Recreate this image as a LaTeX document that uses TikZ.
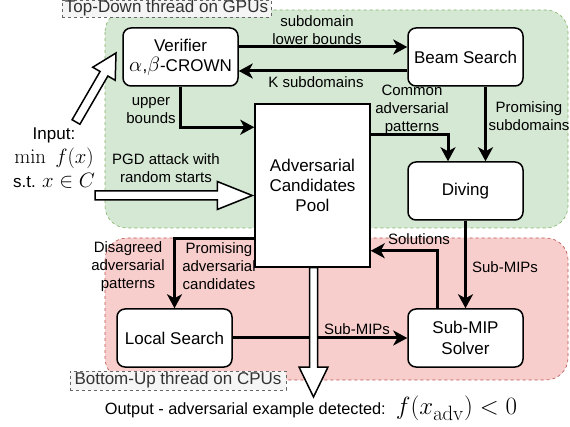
\documentclass[tikz,border=0pt]{standalone}
\usepackage[no-math]{fontspec}
\setmainfont{Liberation Sans}
\usetikzlibrary{arrows.meta,calc}
\definecolor{gfill}{HTML}{D5E8D4}
\definecolor{gline}{HTML}{82B366}
\definecolor{rfill}{HTML}{F8CECC}
\definecolor{rline}{HTML}{B85450}
\definecolor{tfill}{HTML}{F5F5F5}
\definecolor{tline}{HTML}{666666}
\definecolor{ttext}{HTML}{333333}
\newcommand\lgmath[1]{{\fontsize{20.74}{20.74}\selectfont$#1$}}
\newcommand\hgmath[1]{{\fontsize{24.88}{24.88}\selectfont$#1$}}
\newcommand\hollowarr[5]{%
  \coordinate (ha-q) at ($(#2)!#5!(#1)$);
  \draw[hollow] ($(#1)!#3!90:(#2)$) -- ($(ha-q)!#3!90:(#2)$) -- ($(ha-q)!#4!90:(#2)$) -- (#2)
     -- ($(ha-q)!#4!-90:(#2)$) -- ($(ha-q)!#3!-90:(#2)$) -- ($(#1)!#3!-90:(#2)$) -- cycle;}
\begin{document}
\begin{tikzpicture}[x=1pt,y=-1pt,
 box/.style={draw, line width=1.5pt, rounded corners=8pt, minimum width=115pt, minimum height=58pt, align=center, font=\fontsize{17}{21}\selectfont, fill=white, inner sep=0pt},
 poolbox/.style={draw, line width=1.5pt, minimum width=115pt, minimum height=163pt, align=center, font=\fontsize{17}{20}\selectfont, fill=white, inner sep=0pt},
 lbl/.style={align=center, font=\fontsize{15}{18}\selectfont, inner sep=0pt},
 arr/.style={line width=3pt, -{Stealth[length=14pt,width=15pt,inset=4pt]}},
 region/.style={dashed, rounded corners=22pt, line width=0.6pt},
 tag/.style={draw=tline, dashed, fill=tfill, text=ttext, font=\fontsize{17}{17}\selectfont, inner sep=0pt},
 hollow/.style={draw, fill=white, line width=1.5pt, line join=miter}]

\useasboundingbox (0,0) rectangle (570,427);

% regions
\draw[region, draw=gline, fill=gfill] (105,10) rectangle (568,228);
\draw[region, draw=rline, fill=rfill] (105,238) rectangle (568,380);

% main nodes
\node[box] (ver) at (180.5,57) {Verifier\\[-1pt]\lgmath{\alpha}\hspace{0.5pt},\lgmath{\beta}-CROWN};
\node[box] (beam) at (465.5,57) {Beam Search};
\node[box] (div) at (465.5,191) {Diving};
\node[poolbox] (pool) at (312.5,185.5) {Adversarial\\Candidates\\Pool};
\node[box] (loc) at (174.5,338) {Local Search};
\node[box] (sol) at (465.5,338) {Sub-MIP\\Solver};

% input / output
\node[align=center, font=\fontsize{17}{24}\selectfont, inner sep=0pt] (inp) at (54,158) {Input:\\\lgmath{\min\ f(x)}\\s.t. \lgmath{x\in C}};
\node[font=\fontsize{16.3}{18}\selectfont, inner sep=0pt] (out) at (311,408) {Output - adversarial example detected:\hspace{4pt} \hgmath{f(x_{\mathrm{adv}}) < 0}};

% connectors
\draw[arr] ($(ver.east)+(0,-10)$) -- ($(beam.west)+(0,-10)$);
\draw[arr] ($(beam.west)+(0,14)$) -- ($(ver.east)+(0,14)$);
\draw[arr] (ver.south) |- ($(pool.north west)+(0,24)$);
\draw[arr] ($(beam.south)+(20,0)$) -- ($(div.north)+(20,0)$);
\draw[arr] ($(pool.north east)+(0,31)$) -| ($(div.north)+(-17.5,0)$);
\draw[arr] (div.south) -- (sol.north);
\draw[arr] ($(sol.north)+(-28,0)$) |- ($(pool.south east)+(0,-17)$);
\draw[arr] ($(pool.south west)+(0,-29)$) -| (loc.north);
\draw[arr] (loc.east) -- (sol.west);

% edge labels
\node[lbl] (l1) at (317,30) {subdomain\\lower bounds};
\node[lbl] (l2) at (316,82) {K subdomains};
\node[lbl] (l3) at (151,110.5) {upper\\bounds};
\node[lbl] (l4) at (412,110) {Common\\adversarial\\patterns};
\node[lbl] (l5) at (529,116) {Promising\\subdomains};
\node[lbl] (l6) at (166,168) {PGD attack with\\random starts};
\node[lbl] (l7) at (505,267) {Sub-MIPs};
\node[lbl] (l8) at (419,239) {Solutions};
\node[lbl] (l9) at (128,266.5) {Disagreed\\adversarial\\patterns};
\node[lbl] (l10) at (219,266.5) {Promising\\adversarial\\candidates};
\node[lbl] (l11) at (357,329) {Sub-MIPs};

% hollow arrows
\coordinate (dtail) at (76,122);
\coordinate (dtip) at (116,53);
\hollowarr{dtail}{dtip}{4.5pt}{13pt}{24pt}
\coordinate (ptail) at (95,195.5);
\coordinate (ptip) at ($(pool.west)+(-2,10)$);
\hollowarr{ptail}{ptip}{4.5pt}{14pt}{35pt}
\coordinate (otail) at ($(pool.south)+(1,0)$);
\coordinate (otip) at (313.5,397);
\hollowarr{otail}{otip}{4pt}{14.5pt}{30pt}

% thread tags
\node[tag, minimum width=209pt, minimum height=17pt] (tdown) at (166.5,8.5) {Top-Down thread on GPUs};
\node[tag, minimum width=216pt, minimum height=19pt] (tbot) at (178,380.5) {Bottom-Up thread on CPUs};
\end{tikzpicture}
\end{document}
